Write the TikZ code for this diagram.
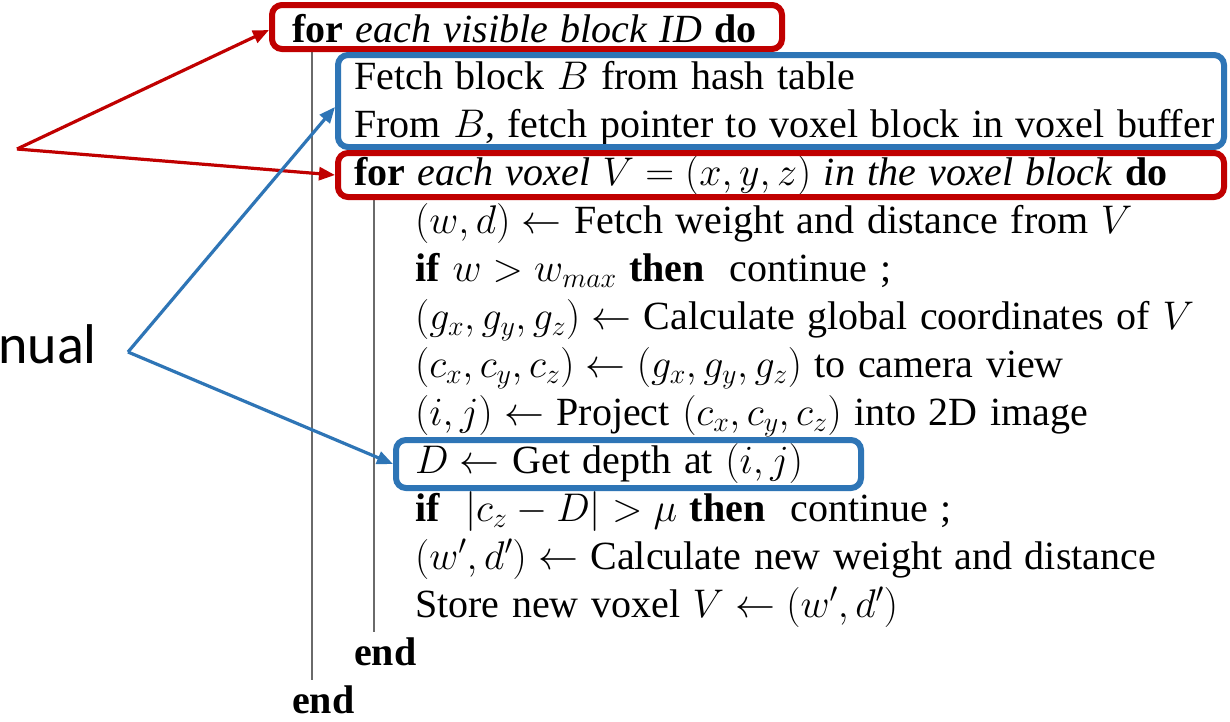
\RequirePackage{fix-cm}
\documentclass[tikz,border=0pt]{standalone}
\usepackage{fontspec}
\setmainfont{Liberation Serif}[WordSpace=1.25]
\newfontfamily\calibrifont{Carlito}
\usetikzlibrary{arrows.meta}
\definecolor{myred}{HTML}{C00000}
\definecolor{myblue}{HTML}{2E75B6}
\definecolor{lnclr}{HTML}{6A6A6A}
\begin{document}
\begin{tikzpicture}[x=1pt,y=-1pt,
  txt/.style={anchor=base west, inner sep=0pt, font=\fontsize{40}{46}\selectfont},
  redbox/.style={draw=myred, line width=6pt, rounded corners=10pt, inner sep=0pt, anchor=north west},
  bluebox/.style={draw=myblue, line width=6pt, rounded corners=10pt, inner sep=0pt, anchor=north west},
  redarrow/.style={draw=myred, line width=3.2pt, -{Triangle[length=16pt,width=13pt]}},
  bluearrow/.style={draw=myblue, line width=3.2pt, -{Triangle[length=16pt,width=13pt]}},
  algline/.style={draw=lnclr, line width=1.5pt}]
\useasboundingbox (0,0) rectangle (1230,721);
\fill[white] (0,0) rectangle (1230,721);

% algorithm text
\node[txt] (l1) at (292,42) {\textbf{for} \textit{each visible block ID} \textbf{do}};
\node[txt] (l2) at (354,89) {Fetch block $B$ from hash table};
\node[txt] (l3) at (354,137) {From $B$, fetch pointer to voxel block in voxel buffer};
\node[txt] (l4) at (354,185) {\textbf{for} \textit{each voxel $V=(x,y,z)$ in the voxel block} \textbf{do}};
\node[txt] (l5) at (415,233) {$(w,d)\leftarrow$ Fetch weight and distance from $V$};
\node[txt] (l6) at (415,281) {\textbf{if} $w>w_{max}$ \textbf{then}\ \ continue ;};
\node[txt] (l7) at (415,329) {$(g_x,g_y,g_z)\leftarrow$ Calculate global coordinates of $V$};
\node[txt] (l8) at (415,377) {$(c_x,c_y,c_z)\leftarrow(g_x,g_y,g_z)$ to camera view};
\node[txt] (l9) at (415,425) {$(i,j)\leftarrow$ Project $(c_x,c_y,c_z)$ into 2D image};
\node[txt] (l10) at (415,473) {$D\leftarrow$ Get depth at $(i,j)$};
\node[txt] (l11) at (415,521) {\textbf{if}\ \ $|c_z-D|>\mu$ \textbf{then}\ \ continue ;};
\node[txt] (l12) at (415,569) {$(w',d')\leftarrow$ Calculate new weight and distance};
\node[txt] (l13) at (415,617) {Store new voxel $V\leftarrow(w',d')$};
\node[txt] (l14) at (354,665) {\textbf{end}};
\node[txt] (l15) at (292,713) {\textbf{end}};

% block lines
\coordinate (o1) at (312,52);
\coordinate (o2) at (312,680);
\coordinate (i1) at (374,200);
\coordinate (i2) at (374,632);
\draw[algline] (o1) -- (o2);
\draw[algline] (i1) -- (i2);

% boxes
\node[redbox, minimum width=510pt, minimum height=44pt] (box1) at (269,2) {};
\node[bluebox, minimum width=886pt, minimum height=92pt] (box2) at (335,52) {};
\node[redbox, minimum width=886pt, minimum height=44pt] (box3) at (335,150) {};
\node[bluebox, minimum width=465pt, minimum height=48pt] (boxD) at (393,437) {};

% label
\node[anchor=base east, inner sep=0pt, font=\calibrifont\fontsize{56}{60}\selectfont] (lab) at (97,363) {nual};

% arrows
\coordinate (rsrc) at (17,149);
\coordinate (bsrc) at (128,352);
\draw[redarrow] (rsrc) -- ([yshift=-3pt]box1.west);
\draw[redarrow] (rsrc) -- (box3.west);
\draw[bluearrow] (bsrc) -- ([yshift=-6pt]box2.west);
\draw[bluearrow] (bsrc) -- (boxD.west);
\end{tikzpicture}
\end{document}
